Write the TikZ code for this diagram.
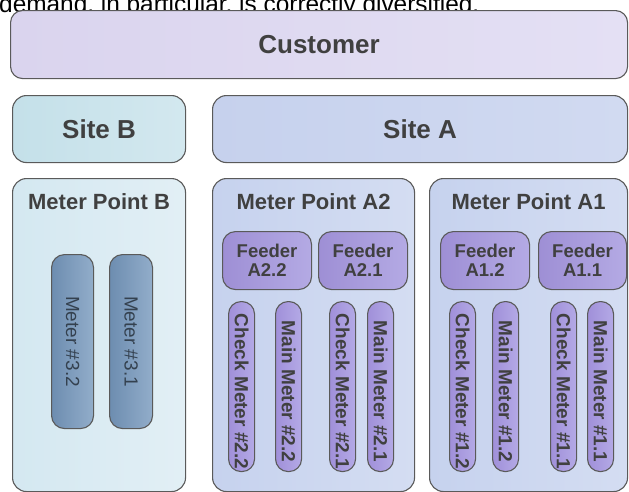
\documentclass[tikz,border=0pt]{standalone}
\usepackage{fontspec}
\usepackage{graphicx}
\setmainfont{Liberation Sans}
\definecolor{bordc}{HTML}{5A5A5A}
\definecolor{txtc}{HTML}{404040}
\definecolor{custL}{HTML}{DAD4EE}
\definecolor{custR}{HTML}{E4E0F4}
\definecolor{sitebL}{HTML}{C4E0E9}
\definecolor{sitebR}{HTML}{D3E8EF}
\definecolor{siteaL}{HTML}{C6D1ED}
\definecolor{siteaR}{HTML}{D1DAF1}
\definecolor{mpbL}{HTML}{D4E8F1}
\definecolor{mpbR}{HTML}{E2EFF5}
\definecolor{mpaL}{HTML}{C6D2EE}
\definecolor{mpaR}{HTML}{D4DDF2}
\definecolor{feedL}{HTML}{9E8FD5}
\definecolor{feedR}{HTML}{B4AAE4}
\definecolor{metL}{HTML}{A090D9}
\definecolor{metR}{HTML}{B4AAE6}
\definecolor{steelL}{HTML}{6D8DB0}
\definecolor{steelR}{HTML}{92ADCA}
\definecolor{steeltxt}{HTML}{34414F}
\newcommand{\vtxt}[1]{\rotatebox{-90}{\hspace*{10pt}#1}}
\tikzset{
  box/.style={draw=bordc, line width=1.1pt, rounded corners=12pt, anchor=north west,
    inner sep=0pt, text=txtc},
  bigtxt/.style={font=\fontsize{26}{30}\selectfont\bfseries},
  mptitle/.style={font=\fontsize{22}{26}\selectfont\bfseries, text=txtc, anchor=north,
    inner sep=0pt, yshift=-15pt},
  feeder/.style={box, left color=feedL, right color=feedR, minimum width=89pt,
    minimum height=58pt, rounded corners=13pt, align=center,
    font=\fontsize{18.5}{19}\selectfont\bfseries},
  meterbox/.style={box, left color=metL, right color=metR, minimum width=26pt,
    minimum height=170pt, rounded corners=12.5pt,
    font=\fontsize{19}{22}\selectfont\bfseries},
  steelbox/.style={box, left color=steelL, right color=steelR, minimum width=42pt,
    minimum height=174pt, rounded corners=13pt, text=steeltxt,
    font=\fontsize{19}{22}\selectfont},
}
\begin{document}
\begin{tikzpicture}[x=1pt,y=-1pt]
\useasboundingbox (0,0) rectangle (629,491);
\clip (0,0) rectangle (629,491);
% partially cut-off sentence at the top
\node[anchor=base west, inner sep=0pt, font=\fontsize{24.4}{28}\selectfont] (capt) at (-1,12.5) {demand, in particular, is correctly diversified.};
% top levels
\node[box, bigtxt, left color=custL, right color=custR, minimum width=617pt, minimum height=68pt] (cust) at (10,10) {Customer};
\node[box, bigtxt, left color=sitebL, right color=sitebR, minimum width=173pt, minimum height=67pt, rounded corners=14pt] (siteB) at (12,95) {Site B};
\node[box, bigtxt, left color=siteaL, right color=siteaR, minimum width=415pt, minimum height=67pt, rounded corners=14pt] (siteA) at (212,95) {Site A};
% meter points
\node[box, left color=mpbL, right color=mpbR, minimum width=173pt, minimum height=313pt, rounded corners=14pt,
  label={[mptitle]north:Meter Point B}] (mpB) at (12,178) {};
\node[box, left color=mpaL, right color=mpaR, minimum width=202pt, minimum height=313pt, rounded corners=14pt,
  label={[mptitle]north:Meter Point A2}] (mpA2) at (212,178) {};
\node[box, left color=mpaL, right color=mpaR, minimum width=198pt, minimum height=313pt, rounded corners=14pt,
  label={[mptitle]north:Meter Point A1}] (mpA1) at (429,178) {};
% feeders
\node[feeder] (fA22) at (222,231) {Feeder\\A2.2};
\node[feeder] (fA21) at (318,231) {Feeder\\A2.1};
\node[feeder] (fA12) at (440,231) {Feeder\\A1.2};
\node[feeder, minimum width=88pt] (fA11) at (538,231) {Feeder\\A1.1};
% meters site A
\node[meterbox] (ck22) at (228,301) {\vtxt{Check Meter \#2.2}};
\node[meterbox] (mn22) at (275,301) {\vtxt{Main Meter \#2.2}};
\node[meterbox] (ck21) at (329,301) {\vtxt{Check Meter \#2.1}};
\node[meterbox] (mn21) at (367,301) {\vtxt{Main Meter \#2.1}};
\node[meterbox] (ck12) at (449,301) {\vtxt{Check Meter \#1.2}};
\node[meterbox] (mn12) at (492,301) {\vtxt{Main Meter \#1.2}};
\node[meterbox] (ck11) at (550,301) {\vtxt{Check Meter \#1.1}};
\node[meterbox] (mn11) at (587,301) {\vtxt{Main Meter \#1.1}};
% meters site B
\node[steelbox] (m32) at (51,254) {\rotatebox{-90}{Meter \#3.2}};
\node[steelbox, minimum width=43pt] (m31) at (109,254) {\rotatebox{-90}{Meter \#3.1}};
\end{tikzpicture}
\end{document}
